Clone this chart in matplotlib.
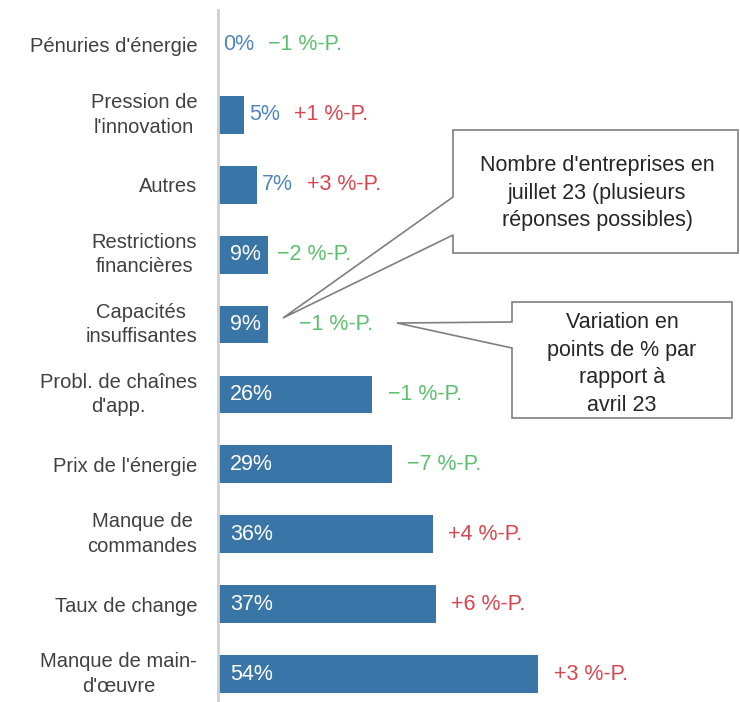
import matplotlib
matplotlib.use("Agg")
import matplotlib.pyplot as plt
from matplotlib.patches import Polygon

plt.rcParams['font.family'] = ['Liberation Sans', 'DejaVu Sans']

categories = ["Pénuries d'énergie", "Pression de\nl'innovation", "Autres",
              "Restrictions\nfinancières", "Capacités\ninsuffisantes",
              "Probl. de chaînes\nd'app.", "Prix de l'énergie", "Manque de\ncommandes",
              "Taux de change", "Manque de main-\nd'œuvre"]
values = [0, 4.4, 6.6, 8.5, 8.5, 26, 29.3, 36.2, 36.7, 54]
changes = [-1, 1, 3, -2, -1, -1, -7, 4, 6, 3]
value_labels = ["0%", "5%", "7%", "9%", "9%", "26%", "29%", "36%", "37%", "54%"]
change_labels = ["\u22121 %-P.", "+1 %-P.", "+3 %-P.", "\u22122 %-P.", "\u22121 %-P.",
                 "\u22121 %-P.", "\u22127 %-P.", "+4 %-P.", "+6 %-P.", "+3 %-P."]
callout1 = "Nombre d'entreprises en\njuillet 23 (plusieurs\nréponses possibles)"
callout2 = "Variation en\npoints de % par\nrapport à\navril 23"

BAR = "#3a75a8"
BLUE_T = "#4f86c0"
GREEN = "#5bbf6e"
RED = "#d9454f"
FS_CAT = 14.5
FS_LAB = 15.5
FS_BOX = 15.5

W, H = 740, 702
fig = plt.figure(figsize=(W/100, H/100), dpi=100)
ax = fig.add_axes([218/W, 0, 1 - 218/W, 1 - 10/H])
y = list(range(len(categories)))
ax.barh(y, values, height=0.54, color=BAR)
ax.set_xlim(0, 88)
ax.set_ylim(9.4, -0.5)
ax.set_yticks(y)
ax.set_yticklabels(categories, fontsize=FS_CAT, color="#404040",
                   multialignment="center", linespacing=1.38)
for lab in ax.get_yticklabels():
    if "\n" in lab.get_text():
        lab.set_va("center")
ax.tick_params(axis="y", length=0, pad=15)
ax.set_xticks([])
for s in ["top", "right", "bottom"]:
    ax.spines[s].set_visible(False)
ax.spines["left"].set_color("#cfcfcf")
ax.spines["left"].set_linewidth(2)

for i, (v, c, vl, cl) in enumerate(zip(values, changes, value_labels, change_labels)):
    col = GREEN if c < 0 else RED
    if v >= 8:
        ax.annotate(vl, (0, i), xytext=(8.5, 0), textcoords="offset points",
                    ha="left", va="center", color="white", fontsize=FS_LAB)
        off = 11
        if i == 3:
            off = 6
        elif i == 4:
            off = 22
        ax.annotate(cl, (v, i), xytext=(off, 0), textcoords="offset points",
                    ha="left", va="center", color=col, fontsize=FS_LAB)
    else:
        t = ax.annotate(vl, (v, i), xytext=(3.5, 0), textcoords="offset points",
                        ha="left", va="center", color=BLUE_T, fontsize=FS_LAB)
        ax.annotate(cl, (1, 0.5), xycoords=t, xytext=(10, 0), textcoords="offset points",
                    ha="left", va="center", color=col, fontsize=FS_LAB)

def px(x, yy):
    return (x / W, 1 - yy / H)

# callout 1
pts1 = [(453, 130), (738, 130), (738, 253), (453, 253), (453, 235), (283, 318), (453, 197)]
fig.patches.append(Polygon([px(*p) for p in pts1], closed=True, transform=fig.transFigure,
                           facecolor="white", edgecolor="#7f7f7f", linewidth=1.2, zorder=5))
fig.text(*px(597, 193), callout1, ha="center", va="center", fontsize=FS_BOX,
         color="#262626", zorder=6, linespacing=1.4)
# callout 2
pts2 = [(512, 302), (732, 302), (732, 418), (512, 418), (512, 348), (397, 323), (512, 322)]
fig.patches.append(Polygon([px(*p) for p in pts2], closed=True, transform=fig.transFigure,
                           facecolor="white", edgecolor="#7f7f7f", linewidth=1.2, zorder=5))
fig.text(*px(622, 364), callout2, ha="center", va="center", fontsize=FS_BOX,
         color="#262626", zorder=6, linespacing=1.43)

fig.savefig("out.png", dpi=100)
